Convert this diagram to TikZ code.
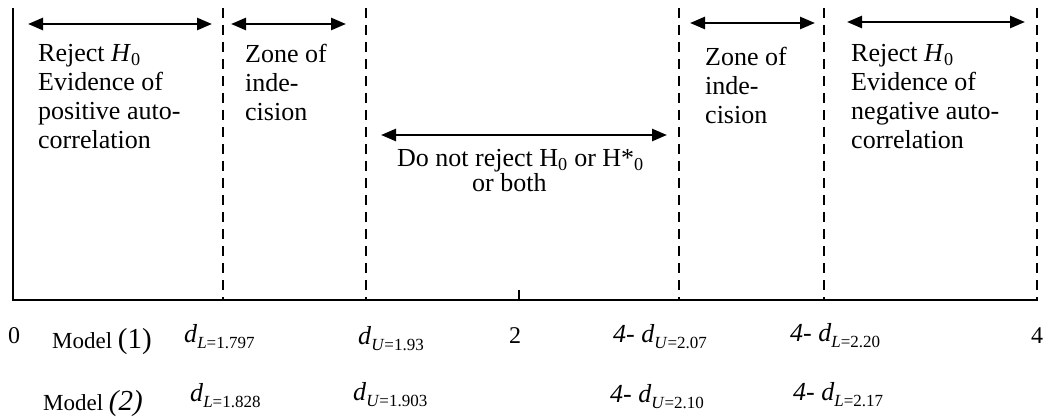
\documentclass[tikz,border=0pt]{standalone}
\usepackage{fontspec}
\setmainfont{Liberation Serif}
\usetikzlibrary{arrows.meta}
\newcommand\dsb[2]{\textit{d}\raisebox{-6pt}{\fontsize{17}{17}\selectfont\textit{#1}=#2}}
\begin{document}
\begin{tikzpicture}[x=1pt,y=-1pt,
  dline/.style={line width=2pt, dash pattern=on 10pt off 7pt},
  dbl/.style={line width=2.5pt, {Triangle[length=15pt,width=12pt]}-{Triangle[length=15pt,width=12pt]}},
  txt/.style={font=\fontsize{26}{29}\selectfont, inner sep=0pt, anchor=base west, align=left},
  lab/.style={font=\fontsize{24}{24}\selectfont, inner sep=0pt, anchor=base west},
  mlab/.style={font=\fontsize{23}{23}\selectfont, inner sep=0pt, anchor=base west},
  dlab/.style={font=\fontsize{26}{26}\selectfont, inner sep=0pt, anchor=base west},
]
\useasboundingbox (0,0) rectangle (1050,417);
% frame
\coordinate (lt) at (13,8);
\coordinate (lb) at (13,300);
\coordinate (ax0) at (12,300);
\coordinate (ax1) at (1038,300);
\coordinate (tk0) at (519,290);
\coordinate (tk1) at (519,300);
\draw[line width=2pt] (lt) -- (lb);
\draw[line width=2.5pt] (ax0) -- (ax1);
\draw[line width=1.5pt] (tk0) -- (tk1);
% dashed boundaries
\foreach \n/\x in {1/223,2/366,3/679,4/824,5/1037}{
  \coordinate (d\n t) at (\x,8);
  \coordinate (d\n b) at (\x,299);
  \draw[dline] (d\n t) -- (d\n b);
}
% arrows
\coordinate (a1l) at (28,24);  \coordinate (a1r) at (212,24);
\coordinate (a2l) at (231,24); \coordinate (a2r) at (346,24);
\coordinate (a3l) at (381,135); \coordinate (a3r) at (667,135);
\coordinate (a4l) at (690,23); \coordinate (a4r) at (815,23);
\coordinate (a5l) at (847,22); \coordinate (a5r) at (1025,22);
\draw[dbl] (a1l) -- (a1r);
\draw[dbl] (a2l) -- (a2r);
\draw[dbl] (a3l) -- (a3r);
\draw[dbl] (a4l) -- (a4r);
\draw[dbl] (a5l) -- (a5r);
% zone texts (base anchor = baseline of the last line)
\node[txt] (rejL) at (38,149) {Reject \textit{H}\textsubscript{0}\\Evidence of\\positive auto-\\correlation};
\node[txt] (zoneL) at (245,121) {Zone of\\inde-\\cision};
\node[txt] (mid1) at (397,167) {Do not reject H\textsubscript{0} or H*\textsubscript{0}};
\node[txt] (mid2) at (472,192) {or both};
\node[txt] (zoneR) at (705,124) {Zone of\\inde-\\cision};
\node[txt] (rejR) at (851,149) {Reject \textit{H}\textsubscript{0}\\Evidence of\\negative auto-\\correlation};
% row 1
\node[lab] (zero) at (8,343) {0};
\node[mlab] (m1) at (52,348) {Model {\fontsize{29}{29}\selectfont(1)}};
\node[dlab] (dl1) at (184,342) {\dsb{L}{1.797}};
\node[dlab] (du1) at (358,344) {\dsb{U}{1.93}};
\node[lab] (two) at (509,343) {2};
\node[dlab] (du1r) at (613,342) {\textit{4-} \dsb{U}{2.07}};
\node[dlab] (dl1r) at (790,341) {\textit{4-} \dsb{L}{2.20}};
\node[lab] (four) at (1031,343) {4};
% row 2
\node[mlab] (m2) at (43,410) {Model {\fontsize{29}{29}\selectfont\itshape(2)}};
\node[dlab] (dl2) at (190,401) {\dsb{L}{1.828}};
\node[dlab] (du2) at (353,400) {\dsb{U}{1.903}};
\node[dlab] (du2r) at (610,402) {\textit{4-} \dsb{U}{2.10}};
\node[dlab] (dl2r) at (793,400) {\textit{4-} \dsb{L}{2.17}};
\end{tikzpicture}
\end{document}
